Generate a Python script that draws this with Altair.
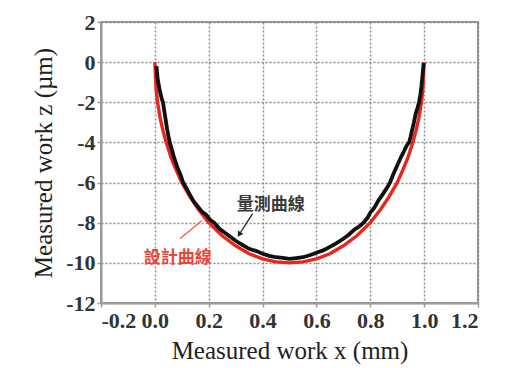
import altair as alt
import pandas as pd

# Design curve (設計曲線), x in mm, z in µm
design_x = [0.0, 0.005, 0.01, 0.02, 0.03, 0.04, 0.06, 0.08, 0.10, 0.13, 0.16, 0.20, 0.25, 0.30,
            0.35, 0.40, 0.45, 0.50, 0.55, 0.60, 0.65, 0.70, 0.75, 0.80, 0.84, 0.87, 0.90,
            0.92, 0.94, 0.96, 0.97, 0.98, 0.99, 0.995, 1.0]
design_z = [0.0, -1.4, -2.0, -2.8, -3.4, -3.9, -4.75, -5.4, -6.0, -6.7, -7.3, -8.0, -8.65, -9.15,
            -9.55, -9.8, -9.95, -10.0, -9.95, -9.8, -9.55, -9.15, -8.65, -8.0, -7.3, -6.7, -6.0,
            -5.4, -4.75, -3.9, -3.4, -2.8, -2.0, -1.4, 0.0]

# Measured curve (量測曲線)
meas_x = [0.006, 0.01, 0.018, 0.025, 0.03, 0.037, 0.045, 0.055, 0.062, 0.07, 0.085, 0.095, 0.105,
          0.118, 0.13, 0.145, 0.16, 0.175, 0.19, 0.205, 0.22, 0.24, 0.26, 0.28, 0.30, 0.325,
          0.35, 0.375, 0.40, 0.425, 0.45, 0.475, 0.50, 0.525, 0.55, 0.575, 0.60, 0.625, 0.65,
          0.675, 0.70, 0.72, 0.74, 0.758, 0.775, 0.79, 0.80, 0.815, 0.83, 0.843, 0.855, 0.865,
          0.873, 0.885, 0.895, 0.905, 0.915, 0.923, 0.93, 0.938, 0.944, 0.95, 0.955, 0.962,
          0.968, 0.975, 0.981, 0.986, 0.99, 0.995, 0.998]
meas_z = [-0.2, -0.8, -1.4, -1.8, -2.0, -2.6, -3.3, -4.0, -4.3, -4.7, -5.3, -5.6, -6.0,
          -6.3, -6.6, -6.95, -7.2, -7.45, -7.6, -7.85, -8.0, -8.3, -8.5, -8.7, -8.9, -9.1,
          -9.3, -9.4, -9.55, -9.65, -9.72, -9.75, -9.8, -9.76, -9.72, -9.62, -9.5, -9.38, -9.2,
          -9.02, -8.8, -8.6, -8.35, -8.2, -8.0, -7.75, -7.5, -7.25, -6.9, -6.65, -6.4, -6.2,
          -6.0, -5.6, -5.3, -5.0, -4.7, -4.5, -4.3, -4.1, -4.0, -3.7, -3.4, -3.0,
          -2.6, -2.3, -2.0, -1.6, -1.2, -0.5, -0.05]

x_ticks = [-0.2, 0.0, 0.2, 0.4, 0.6, 0.8, 1.0, 1.2]
y_ticks = [-12, -10, -8, -6, -4, -2, 0, 2]

# Annotations
label_text = ["量測曲線", "設計曲線"]
label_x = [0.43, 0.085]
label_z = [-7.1, -9.75]
meas_arrow_x = [0.363, 0.315]
meas_arrow_z = [-7.55, -8.55]
design_arrow_x = [0.093, 0.174]
design_arrow_z = [-8.8, -7.9]

design = pd.DataFrame({"x": design_x, "z": design_z})
meas = pd.DataFrame({"x": meas_x, "z": meas_z})

xs = alt.Scale(domain=[-0.2, 1.2], nice=False, zero=False)
ys = alt.Scale(domain=[-12, 2], nice=False, zero=False)

frame_col = "#a09a94"
grid_col = "#8a8a8a"

xax = alt.Axis(values=x_ticks, title="Measured work x (mm)", labelExpr="datum.value < 0 ? '-' + format(-datum.value, '.1f') : format(datum.value, '.1f')",
               grid=True, gridColor=grid_col, gridDash=[2, 2], gridWidth=1.5,
               domainColor=frame_col, domainWidth=2, tickColor=frame_col, tickSize=4, tickWidth=1.5,
               labelFont="Liberation Serif", labelFontSize=22, labelFontWeight="bold", labelColor="#333", labelPadding=3,
               titleFont="Liberation Serif", titleFontSize=25, titleFontWeight="normal", titleColor="#222", titlePadding=7)
yax = alt.Axis(values=y_ticks, title="Measured work z (µm)", labelExpr="datum.value < 0 ? '-' + format(-datum.value, 'd') : format(datum.value, 'd')",
               grid=True, gridColor=grid_col, gridDash=[2, 2], gridWidth=1.5,
               domainColor=frame_col, domainWidth=2, tickColor=frame_col, tickSize=4, tickWidth=1.5,
               labelFont="Liberation Serif", labelFontSize=22, labelFontWeight="bold", labelColor="#333", labelPadding=2,
               titleFont="Liberation Serif", titleFontSize=25, titleFontWeight="normal", titleColor="#222", titlePadding=9)

base_design = alt.Chart(design).mark_line(color="#e8261c", strokeWidth=3.4).encode(
    x=alt.X("x:Q", scale=xs, axis=xax),
    y=alt.Y("z:Q", scale=ys, axis=yax),
    order=alt.Order("x:Q"),
)
meas_line = alt.Chart(meas).mark_line(color="#111", strokeWidth=3.8).encode(
    x=alt.X("x:Q", scale=xs), y=alt.Y("z:Q", scale=ys), order=alt.Order("x:Q"))

lab = pd.DataFrame({"t": label_text, "x": label_x, "z": label_z, "c": ["#3a3a3a", "#e8463a"]})
labels = alt.Chart(lab).mark_text(font="Noto Sans CJK TC", fontSize=17, fontWeight="bold").encode(
    x=alt.X("x:Q", scale=xs), y=alt.Y("z:Q", scale=ys), text="t:N",
    color=alt.Color("c:N", scale=None))

ma = pd.DataFrame({"x": meas_arrow_x, "z": meas_arrow_z})
marrow = alt.Chart(ma).mark_line(color="#222", strokeWidth=1.3).encode(
    x=alt.X("x:Q", scale=xs), y=alt.Y("z:Q", scale=ys))
mhead = alt.Chart(ma.iloc[[1]]).mark_point(shape="triangle", filled=True, size=40, color="#222", angle=213, opacity=1).encode(
    x=alt.X("x:Q", scale=xs), y=alt.Y("z:Q", scale=ys))
da = pd.DataFrame({"x": design_arrow_x, "z": design_arrow_z})
darrow = alt.Chart(da).mark_line(color="#f05a4a", strokeWidth=1.3).encode(
    x=alt.X("x:Q", scale=xs), y=alt.Y("z:Q", scale=ys))

chart = alt.layer(base_design, meas_line, marrow, mhead, darrow, labels).properties(
    width=377, height=281,
    autosize=alt.AutoSizeParams(type="none"),
    padding={"left": 93, "top": 14, "right": 20, "bottom": 64},
    background="white",
).configure_view(stroke=frame_col, strokeWidth=2)

chart.save("out.html", embed_options={"renderer": "svg", "actions": False})
